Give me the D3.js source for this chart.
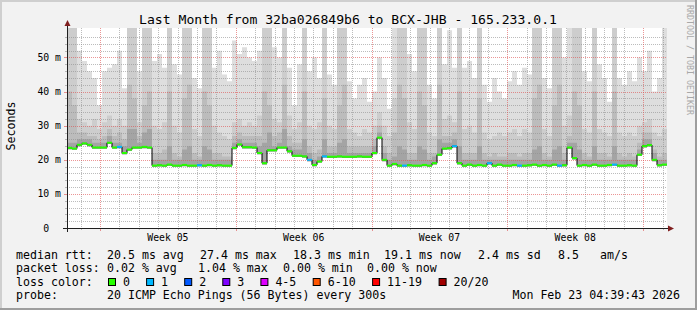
<!DOCTYPE html>
<html>
<head>
<meta charset="utf-8">
<script src="https://cdn.jsdelivr.net/npm/d3@7/dist/d3.min.js"></script>
<style>
  html, body { margin: 0; padding: 0; background: #f2f2f2; }
  svg text { font-family: "DejaVu Sans Mono", monospace; white-space: pre; }
</style>
</head>
<body>
<div id="chart"></div>
<script>
// median rtt (ms) per time step
const median = [
  23.5, 23.3, 24.4, 24.8, 24.4, 23.6, 23.6, 23.6, 25.0, 23.6,
  23.8, 22.0, 23.0, 23.6, 23.6, 23.8, 23.6, 18.3, 18.4, 18.3,
  18.6, 18.3, 18.3, 18.5, 18.3, 18.3, 18.4, 18.3, 18.5, 18.3,
  18.4, 18.3, 18.3, 23.5, 24.5, 23.7, 23.7, 23.6, 22.0, 19.0,
  22.8, 22.8, 23.6, 23.6, 22.5, 21.2, 21.2, 21.0, 20.0, 18.5,
  19.5, 21.0, 20.9, 20.9, 21.0, 20.9, 20.9, 20.9, 21.0, 20.9,
  20.9, 22.0, 26.5, 20.0, 18.3, 18.8, 18.3, 18.3, 18.4, 18.3,
  18.3, 18.5, 18.3, 19.0, 21.5, 23.3, 23.4, 24.0, 19.0, 18.3,
  18.6, 18.3, 18.5, 18.3, 19.0, 18.3, 18.6, 18.3, 18.3, 18.5,
  18.3, 18.3, 18.4, 18.6, 18.3, 18.5, 18.3, 18.6, 18.3, 18.4,
  23.6, 20.5, 18.3, 18.5, 18.3, 18.6, 18.3, 18.3, 18.5, 18.6,
  18.3, 18.3, 18.4, 18.3, 21.5, 24.0, 24.3, 20.0, 18.4, 18.6
];

// lost pings per step (index into lossColors)
const loss = [
  0,0,0,0,0,0,0,0,0,0, 1,0,0,0,0,0,0,0,0,0,
  0,0,0,0,0,0,1,0,0,0, 0,0,0,0,0,0,0,0,0,0,
  0,0,0,0,0,0,0,0,1,0, 0,1,0,0,0,0,0,0,0,0,
  0,0,0,0,0,0,0,1,0,0, 0,0,0,0,0,0,0,1,0,0,
  0,0,0,0,1,0,0,0,0,0, 1,0,0,0,0,0,0,0,1,0,
  0,0,0,0,0,0,0,0,0,1, 0,0,0,0,0,0,0,0,0,0
];

// smoke: upper edges of the ping spread (ms), outermost to innermost
const smokeTop = [
  60, 60, 52, 49, 46, 44, 36, 46, 47, 48,
  52, 41, 60, 60, 46, 60, 60, 49, 51, 47,
  60, 48, 45, 60, 60, 44, 41, 60, 60, 47,
  52, 45, 43, 55, 51, 53, 50, 49, 52, 60,
  60, 53, 50, 60, 47, 36, 48, 60, 46, 50,
  44, 60, 45, 42, 60, 60, 43, 38, 42, 44,
  37, 40, 50, 44, 35, 60, 60, 60, 51, 46,
  60, 60, 42, 38, 60, 48, 58, 47, 60, 47,
  49, 44, 60, 42, 37, 44, 40, 38, 43, 46,
  42, 47, 45, 60, 60, 44, 41, 60, 60, 50,
  60, 60, 60, 46, 43, 60, 48, 44, 37, 60,
  44, 42, 46, 43, 50, 46, 52, 40, 44, 60
];
const smokeMid = [
  60, 60, 32, 31, 30, 32, 29, 31, 33, 30,
  32, 30, 60, 60, 31, 60, 60, 30, 29, 31,
  60, 30, 28, 60, 60, 29, 27, 60, 60, 30,
  28, 27, 26, 31, 32, 30, 31, 30, 33, 60,
  60, 32, 31, 60, 33, 29, 31, 60, 30, 29,
  31, 60, 30, 29, 60, 60, 29, 28, 27, 29,
  28, 30, 34, 30, 27, 38, 60, 60, 31, 29,
  60, 60, 28, 27, 60, 32, 33, 31, 60, 29,
  30, 28, 60, 28, 26, 27, 28, 27, 28, 29,
  27, 29, 28, 60, 60, 29, 27, 60, 60, 30,
  33, 60, 60, 29, 28, 60, 29, 28, 27, 60,
  28, 27, 28, 27, 30, 31, 32, 28, 27, 29
];
const smokeLow = [
  40, 36, 28, 28, 27, 27, 26, 27, 29, 27,
  28, 26, 42, 38, 27, 36, 40, 22, 22, 23,
  40, 22, 21, 38, 42, 22, 21, 40, 36, 22,
  22, 21, 21, 27, 28, 27, 27, 27, 27, 40,
  36, 27, 28, 42, 27, 25, 25, 40, 24, 22,
  23, 38, 24, 24, 36, 42, 24, 24, 24, 24,
  24, 26, 30, 24, 22, 28, 42, 38, 22, 22,
  40, 36, 22, 22, 42, 27, 27, 28, 40, 22,
  22, 22, 38, 22, 21, 22, 21, 21, 22, 22,
  21, 22, 22, 38, 42, 22, 21, 36, 42, 22,
  27, 40, 36, 22, 21, 40, 22, 22, 21, 40,
  22, 21, 22, 21, 25, 28, 28, 23, 21, 22
];
const smokeDark = [
  25, 25, 26, 26, 26, 25, 25, 25, 27, 25,
  25, 24, 29, 29, 25, 28, 29, 20, 20, 20,
  24, 20, 20, 23, 24, 20, 20, 24, 23, 20,
  20, 20, 20, 25, 26, 25, 25, 25, 24, 25,
  28, 24, 25, 29, 24, 23, 23, 26, 22, 20,
  21, 26, 22, 22, 25, 26, 22, 22, 22, 22,
  22, 24, 28, 22, 20, 21, 24, 23, 20, 20,
  24, 23, 20, 21, 26, 25, 25, 26, 24, 20,
  20, 20, 24, 20, 20, 20, 20, 20, 20, 20,
  20, 20, 20, 23, 24, 20, 20, 23, 24, 20,
  25, 25, 23, 20, 20, 24, 20, 20, 20, 24,
  20, 20, 20, 20, 23, 26, 26, 22, 20, 20
];

const yTicks = [0, 10, 20, 30, 40, 50];
const yTickLabels = ["0  ", "10 m", "20 m", "30 m", "40 m", "50 m"];
const weekLabels = ["Week 05", "Week 06", "Week 07", "Week 08"];
const lossLabels = ["0", "1", "2", "3", "4-5", "6-10", "11-19", "20/20"];
const lossColors = ["#26ff00", "#00b8ff", "#0059ff", "#7e00ff", "#dd00ff", "#ff5500", "#ff0000", "#a10000"];
const statsRtt = ["median rtt:", "20.5 ms avg", "27.4 ms max", "18.3 ms min", "19.1 ms now", "2.4 ms sd", "8.5", "am/s"];
const statsLoss = ["packet loss:", "0.02 % avg", "1.04 % max", "0.00 % min", "0.00 % now"];
const probeText = ["probe:", "20 ICMP Echo Pings (56 Bytes) every 300s"];
const stampText = "Mon Feb 23 04:39:43 2026";
const titleText = "Last Month from 32ba026849b6 to BCX-JHB - 165.233.0.1";

const W = 697, H = 310;
const pLeft = 67, pRight = 667, pTop = 28, pBottom = 228;

const t0 = new Date(Date.UTC(2026, 0, 24, 7, 10));
const t1 = new Date(Date.UTC(2026, 1, 24, 5, 30));
const x = d3.scaleUtc().domain([t0, t1]).range([pLeft, pRight]);
const y = d3.scaleLinear().domain([0, 58.65]).range([pBottom, pTop]);

const n = median.length;
const stepMs = (t1 - t0) / n;
const timeAt = i => new Date(+t0 + i * stepMs);

const svg = d3.select("#chart").append("svg")
  .attr("width", W).attr("height", H)
  .style("display", "block");

// frame
svg.append("rect").attr("width", W).attr("height", H).attr("fill", "#f2f2f2");
svg.append("rect").attr("x", 0).attr("y", 0).attr("width", W).attr("height", 2).attr("fill", "#cfcfcf");
svg.append("rect").attr("x", 0).attr("y", 0).attr("width", 2).attr("height", H).attr("fill", "#cfcfcf");
svg.append("rect").attr("x", 0).attr("y", H - 2).attr("width", W).attr("height", 2).attr("fill", "#9e9e9e");
svg.append("rect").attr("x", W - 2).attr("y", 0).attr("width", 2).attr("height", H).attr("fill", "#9e9e9e");

// canvas
svg.append("rect").attr("x", pLeft).attr("y", pTop)
  .attr("width", pRight - pLeft).attr("height", pBottom - pTop).attr("fill", "#fff");

svg.append("clipPath").attr("id", "plot")
  .append("rect").attr("x", pLeft).attr("y", pTop)
  .attr("width", pRight - pLeft).attr("height", pBottom - pTop);

const g = svg.append("g").attr("clip-path", "url(#plot)");

// smoke layers
const idx = d3.range(n + 1);
const layers = [
  [smokeTop, "#dedede"],
  [smokeMid, "#cdcdcd"],
  [smokeLow, "#bcbcbc"],
  [smokeDark, "#a4a4a4"]
];
layers.forEach(([vals, col]) => {
  const area = d3.area()
    .curve(d3.curveStepAfter)
    .x(i => x(timeAt(i)))
    .y0(i => y(median[Math.min(i, n - 1)] - 0.4))
    .y1(i => y(vals[Math.min(i, n - 1)]));
  g.append("path").attr("d", area(idx)).attr("fill", col);
});

// grid
const gridCol = "rgba(143,143,143,0.6)", mgridCol = "rgba(222,79,79,0.6)";
const minorY = d3.range(2, 58, 2).filter(v => v % 10 !== 0);
g.selectAll(".hminor").data(minorY).enter().append("line")
  .attr("x1", pLeft).attr("x2", pRight)
  .attr("y1", d => Math.round(y(d)) + 0.5).attr("y2", d => Math.round(y(d)) + 0.5)
  .attr("stroke", gridCol).attr("stroke-dasharray", "1,1");
const days = d3.utcDay.range(t0, t1).filter(d => d.getUTCDay() !== 1);
g.selectAll(".vminor").data(days).enter().append("line")
  .attr("x1", d => Math.round(x(d)) + 0.5).attr("x2", d => Math.round(x(d)) + 0.5)
  .attr("y1", pTop).attr("y2", pBottom)
  .attr("stroke", gridCol).attr("stroke-dasharray", "1,1");
g.selectAll(".hmajor").data(yTicks.slice(1)).enter().append("line")
  .attr("x1", pLeft).attr("x2", pRight)
  .attr("y1", d => Math.round(y(d)) + 0.5).attr("y2", d => Math.round(y(d)) + 0.5)
  .attr("stroke", mgridCol).attr("stroke-dasharray", "1,1");
const weeks = d3.utcMonday.range(t0, t1);
g.selectAll(".vmajor").data(weeks).enter().append("line")
  .attr("x1", d => Math.round(x(d)) + 0.5).attr("x2", d => Math.round(x(d)) + 0.5)
  .attr("y1", pTop).attr("y2", pBottom)
  .attr("stroke", mgridCol).attr("stroke-dasharray", "1,1");

// small ticks outside the canvas
svg.selectAll(".ytick").data(d3.range(0, 58, 2)).enter().append("line")
  .attr("x1", d => d % 10 === 0 ? pLeft - 3 : pLeft - 2).attr("x2", pLeft)
  .attr("y1", d => Math.round(y(d)) + 0.5).attr("y2", d => Math.round(y(d)) + 0.5)
  .attr("stroke", d => d % 10 === 0 ? mgridCol : gridCol);
svg.selectAll(".xtick").data(d3.utcDay.range(t0, t1)).enter().append("line")
  .attr("x1", d => Math.round(x(d)) + 0.5).attr("x2", d => Math.round(x(d)) + 0.5)
  .attr("y1", pBottom).attr("y2", d => d.getUTCDay() === 1 ? pBottom + 3 : pBottom + 2)
  .attr("stroke", d => d.getUTCDay() === 1 ? mgridCol : gridCol);

// median: black step line, then loss coloured segments
const medLine = d3.line()
  .curve(d3.curveStepAfter)
  .x(i => x(timeAt(i)))
  .y(i => y(median[Math.min(i, n - 1)]));
g.append("path").attr("d", medLine(idx))
  .attr("fill", "none").attr("stroke", "#000").attr("stroke-width", 1);
g.selectAll(".seg").data(median).enter().append("line")
  .attr("x1", (d, i) => x(timeAt(i)))
  .attr("x2", (d, i) => x(timeAt(i + 1)))
  .attr("y1", d => y(d)).attr("y2", d => y(d))
  .attr("stroke", (d, i) => lossColors[loss[i]])
  .attr("stroke-width", 2);

// axes
svg.append("line").attr("x1", pLeft - 4).attr("x2", pRight + 4)
  .attr("y1", pBottom + 0.5).attr("y2", pBottom + 0.5).attr("stroke", "#1f1f1f");
svg.append("line").attr("x1", pLeft + 0.5).attr("x2", pLeft + 0.5)
  .attr("y1", pBottom + 4).attr("y2", pTop - 4).attr("stroke", "#1f1f1f");
svg.append("path")
  .attr("d", `M${pRight + 1},${pBottom - 2.5}L${pRight + 7},${pBottom + 0.5}L${pRight + 1},${pBottom + 3.5}Z`)
  .attr("fill", "#801f1f");
svg.append("path")
  .attr("d", `M${pLeft - 2.5},${pTop - 2}L${pLeft + 0.5},${pTop - 8}L${pLeft + 3.5},${pTop - 2}Z`)
  .attr("fill", "#801f1f");

// y labels
svg.selectAll(".ylab").data(yTicks).enter().append("text")
  .attr("x", 61).attr("y", d => y(d) + 3.5)
  .attr("text-anchor", "end")
  .style("font-size", "9.8px")
  .text((d, i) => yTickLabels[i]);

// week labels centred in each week
svg.selectAll(".wlab").data(weeks).enter().append("text")
  .attr("x", d => x(new Date(+d + 3.5 * 864e5)))
  .attr("y", 241)
  .attr("text-anchor", "middle")
  .style("font-size", "9.8px")
  .text((d, i) => weekLabels[i]);

// title
svg.append("text").attr("x", 348).attr("y", 24)
  .attr("text-anchor", "middle").style("font-size", "13.1px")
  .text(titleText);

// y axis title
svg.append("text").attr("transform", "translate(15,126) rotate(-90)")
  .attr("text-anchor", "middle").style("font-size", "11.6px")
  .text("Seconds");

// watermark
svg.append("text").attr("transform", "translate(686.5,5) rotate(90)")
  .style("font-size", "8.3px").attr("fill", "#a8a8a8")
  .text("RRDTOOL / TOBI OETIKER");

// legend
const fs = "11.6px";
const row1X = [16, 107, 200, 293, 384, 478, 558, 600];
statsRtt.forEach((s, i) => {
  svg.append("text").attr("x", row1X[i]).attr("y", 258.5).style("font-size", fs).text(s);
});
const row2X = [16, 107, 198, 283, 367];
statsLoss.forEach((s, i) => {
  svg.append("text").attr("x", row2X[i]).attr("y", 272).style("font-size", fs).text(s);
});
svg.append("text").attr("x", 16).attr("y", 285.7).style("font-size", fs).text("loss color:");
let bx = 108;
lossLabels.forEach((lab, i) => {
  svg.append("rect").attr("x", bx + 0.5).attr("y", 278.5).attr("width", 7).attr("height", 7)
    .attr("fill", lossColors[i]).attr("stroke", "#000");
  svg.append("text").attr("x", bx + 15).attr("y", 285.7).style("font-size", fs).text(lab);
  bx += 31 + 7.1 * lab.length;
});
svg.append("text").attr("x", 16).attr("y", 299.3).style("font-size", fs).text(probeText[0]);
svg.append("text").attr("x", 107).attr("y", 299.3).style("font-size", fs).text(probeText[1]);
svg.append("text").attr("x", 680).attr("y", 299.3).attr("text-anchor", "end")
  .style("font-size", fs).text(stampText);
</script>
</body>
</html>
